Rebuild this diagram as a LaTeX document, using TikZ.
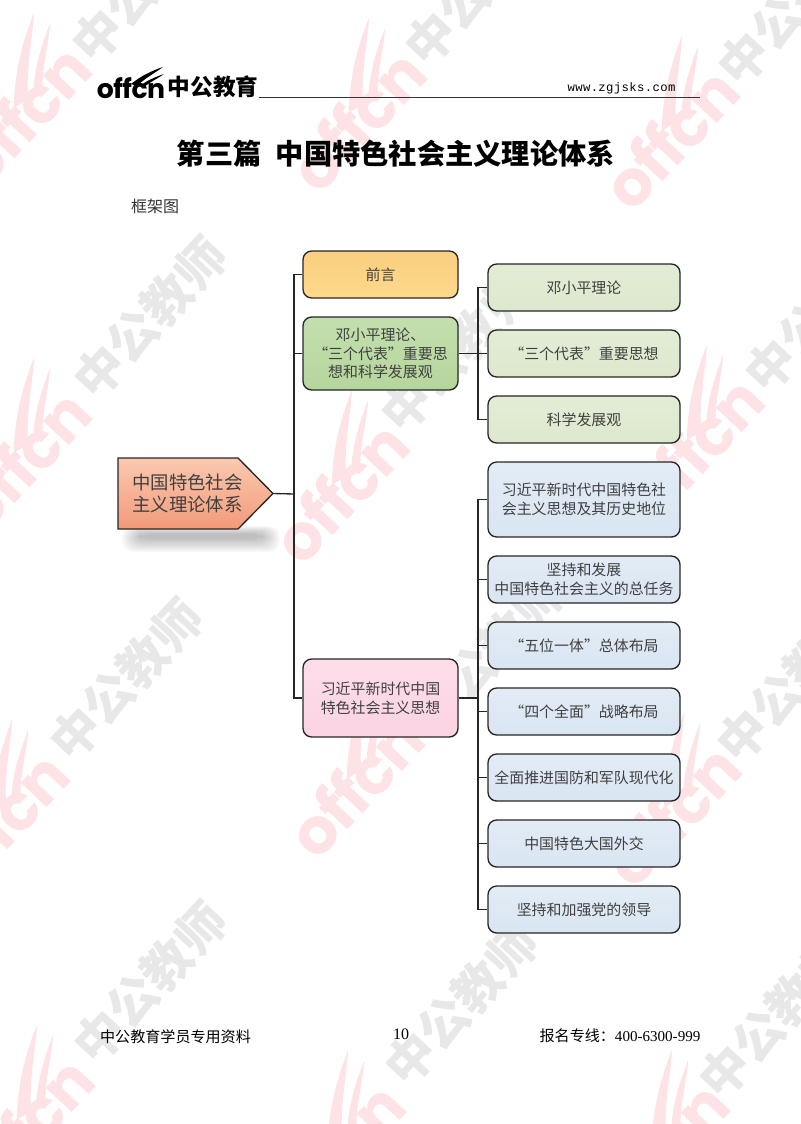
\documentclass[tikz,border=0pt]{standalone}
\usepackage{fontspec}
\setmainfont{Noto Sans CJK SC}
\newfontfamily\numfont{Liberation Serif}
\newfontfamily\urlfont[LetterSpace=3]{Liberation Mono}
\newfontfamily\logofont[LetterSpace=-2]{Poppins}
\usepackage{tikz}
\definecolor{boxline}{HTML}{262626}
\definecolor{wmpink}{HTML}{FDE3E6}
\definecolor{wmgrey}{HTML}{E8E8E8}
\definecolor{rootTop}{HTML}{FBC9B0}
\definecolor{rootBot}{HTML}{F29A7A}
\definecolor{prefTop}{HTML}{F9CF80}
\definecolor{prefBot}{HTML}{FFD98C}
\definecolor{dengTop}{HTML}{C3DFAE}
\definecolor{dengBot}{HTML}{B5D69C}
\definecolor{xiTop}{HTML}{FDDDEA}
\definecolor{xiBot}{HTML}{FCD3E3}
\definecolor{paleG}{HTML}{E2EDD5}
\definecolor{paleGb}{HTML}{DDE9CE}
\definecolor{paleB}{HTML}{E3ECF6}
\definecolor{paleBb}{HTML}{D9E5F2}
\newcommand{\swoosh}[1]{\fill[#1] (0,-4) .. controls (10,-12) and (20,-17) .. (32,-21)
  .. controls (24,-15) and (14,-10) .. (6,-2) -- cycle;
  \fill[#1] (9,-2) .. controls (15,-7) and (24,-11) .. (33,-14)
  .. controls (26,-9) and (19,-6) .. (13,-1) -- cycle;}
\begin{document}
\begin{tikzpicture}[x=0.75pt,y=-0.75pt,thick,
    wmoffcn/.style={text=wmpink,font=\logofont\bfseries\fontsize{48pt}{48pt}\selectfont,rotate=47,inner sep=0},
    wmteacher/.style={text=wmgrey,font=\bfseries\fontsize{37pt}{37pt}\selectfont,rotate=47,inner sep=0},
    card/.style={rounded corners=6.5pt,draw=boxline,line width=1pt,align=center,inner sep=0,
      font=\fontsize{11.2pt}{14pt}\selectfont,text=black!75},
    pale/.style 2 args={card,minimum width=144pt,minimum height=35.25pt,top color=#1,bottom color=#2},
    mid/.style 2 args={card,minimum width=116.25pt,top color=#1,bottom color=#2},
    link/.style={draw=boxline,line width=1pt}]
    \useasboundingbox (0,0) rectangle (800,1124);

    \foreach \x/\y [count=\i] in {22/115,357/120,670/138,22/460,340/492,695/447,0/822,355/786,672/815,25/1127,336/1153,660/1152} {
      \node[wmoffcn] (wo\i) at (\x,\y) {offcn};
      \begin{scope}[shift={(\x,\y)},rotate=50,scale=2.7]
        \swoosh{wmpink}
      \end{scope}
    }
    \foreach \x/\y [count=\i] in {148/-18,481/-15,794/5,150/318,457/352,821/312,126/680,488/655,793/682,150/983,461/1005,775/1018}
      \node[wmteacher] (wt\i) at (\x,\y) {中公教师};

    \node[inner sep=0,font=\logofont\bfseries\fontsize{20pt}{20pt}\selectfont] (logo) at (131,88) {offcn};
    \begin{scope}[shift={(131,88)}]
      \swoosh{black}
    \end{scope}
    \node[inner sep=0,font=\bfseries\fontsize{17pt}{17pt}\selectfont] (brand) at (213,87) {中公教育};
    \node[inner sep=0,font=\urlfont\fontsize{9.2pt}{10pt}\selectfont] (url) at (621.5,88) {www.zgjsks.com};
    \coordinate (ruleend) at (700,97.5);
    \draw[line width=0.8pt,black!80] (brand.south east|-ruleend) -- (ruleend);

    \node[inner sep=0,font=\bfseries\fontsize{21.2pt}{21pt}\selectfont] (title) at (396,154) {第三篇\hspace{0.5em}中国特色社会主义理论体系};
    \node[inner sep=0,font=\fontsize{12pt}{12pt}\selectfont,text=black!80] (frame) at (155,206) {框架图};

    \foreach \i in {0,...,11}
      \fill[black,opacity=0.022,rounded corners=8pt] (122+\i*1.6,526+\i*0.7) rectangle (280-\i*1.6,552-\i*1.2);
    \draw[draw=boxline,line width=1pt,top color=rootTop,bottom color=rootBot] (118,458) -- (238,458) -- (273,493.5) -- (238,529) -- (118,529) -- cycle;
    \node[inner sep=0,text=black!75,align=center,font=\fontsize{13.8pt}{17pt}\selectfont] (root) at (187.5,493.5) {中国特色社会\\主义理论体系};
    \coordinate (roottip) at (273,493.5);

    \node[card,minimum width=116.25pt,minimum height=35.25pt,top color=prefTop,bottom color=prefBot] (preface) at (380.5,274.5) {前言};
    \node[mid={dengTop}{dengBot},minimum height=54.75pt] (deng) at (380.5,353.5) {邓小平理论、\\“三个代表”重要思\\想和科学发展观};
    \node[mid={xiTop}{xiBot},minimum height=58.5pt] (xi) at (380.5,698) {习近平新时代中国\\特色社会主义思想};

    \foreach \n/\y/\t in {a/287.5/邓小平理论,b/353.5/“三个代表”重要思想,c/419.5/科学发展观}
      \node[pale={paleG}{paleGb}] (g\n) at (584,\y) {\t};
    \node[pale={paleB}{paleBb},minimum height=56.25pt] (ba) at (584,499.5) {习近平新时代中国特色社\\会主义思想及其历史地位};
    \foreach \n/\y/\t in {b/579.5/{坚持和发展\\中国特色社会主义的总任务},c/645.5/“五位一体”总体布局,d/711.5/“四个全面”战略布局,e/777.5/全面推进国防和军队现代化,f/843.5/中国特色大国外交,g/909.5/坚持和加强党的领导}
      \node[pale={paleB}{paleBb}] (b\n) at (584,\y) {\t};

    \coordinate (trunka) at (294,494);
    \coordinate (trunkb) at (478,353.5);
    \coordinate (trunkc) at (478,698);
    \draw[link] (roottip) -- (trunka);
    \draw[link] (preface.west) -| (trunka) |- (xi.west);
    \draw[link] (deng.west) -- (deng.west-|trunka);
    \draw[link] (deng.east) -- (gb.west);
    \draw[link] (ga.west) -| (trunkb) |- (gc.west);
    \draw[link] (xi.east) -- (trunkc);
    \draw[link] (ba.west) -| (trunkc) |- (bg.west);
    \foreach \n in {b,c,d,e,f}
      \draw[link] (b\n.west) -- (b\n.west-|trunkc);

    \node[inner sep=0,font=\fontsize{11.3pt}{12pt}\selectfont] (footl) at (175.5,1037) {中公教育学员专用资料};
    \node[inner sep=0,font=\numfont\fontsize{12pt}{12pt}\selectfont] (page) at (401,1034) {10};
    \node[inner sep=0,font=\fontsize{11.3pt}{12pt}\selectfont] (footr) at (620,1036) {报名专线：{\numfont 400-6300-999}};
  \end{tikzpicture}
\end{document}
